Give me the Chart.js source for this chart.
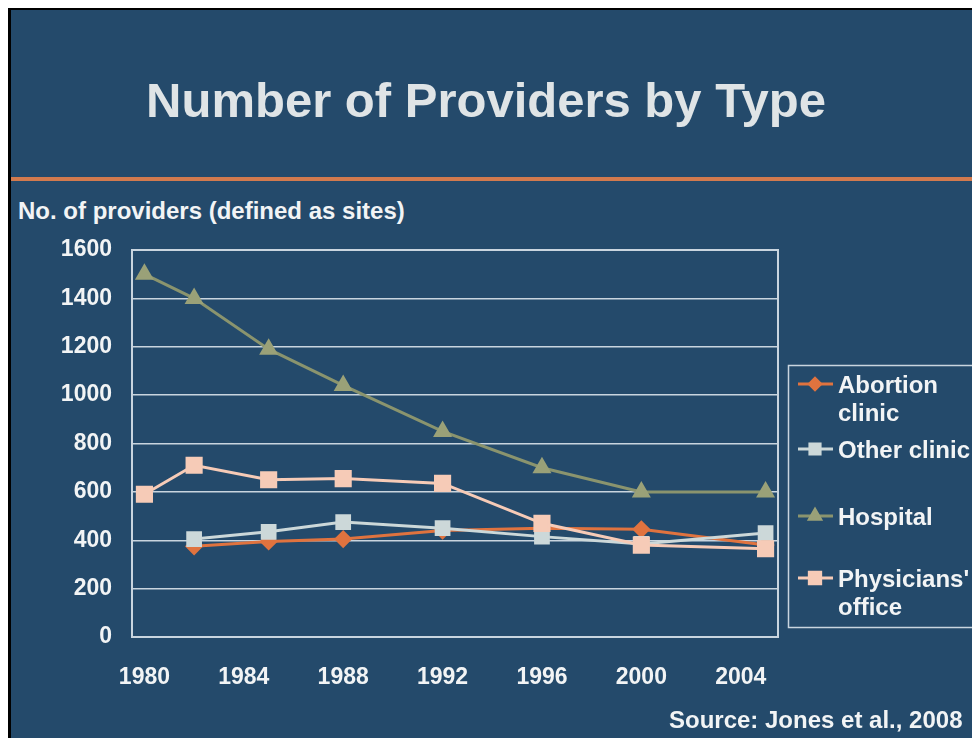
<!DOCTYPE html>
<html>
<head>
<meta charset="utf-8">
<script src="https://cdn.jsdelivr.net/npm/chart.js"></script>
<style>
  html, body { margin: 0; padding: 0; background: #fff; overflow: hidden; width: 972px; height: 738px; }
  #slide { position: absolute; left: 8px; top: 8px; width: 980px; height: 750px; background: #244a6b;
           border-left: 3px solid #000; border-top: 2px solid #000; }
  .txt { position: absolute; font-family: "Liberation Sans", Arial, sans-serif; font-weight: bold; white-space: nowrap; }
  #title { left: 0; width: 972px; top: 72px; text-align: center; font-size: 49px; color: #dfe4e6; }
  #rule { position: absolute; left: 11px; top: 177px; width: 970px; height: 4px; background: #d27a4e; }
  #ytitle { left: 18px; top: 197px; font-size: 24px; color: #f2f4f5; }
  #source { left: 669px; top: 706px; font-size: 24px; color: #f2f4f5; }
  canvas { position: absolute; left: 0; top: 0; }
</style>
</head>
<body>
<div id="slide"></div>
<div id="rule"></div>
<div class="txt" id="title">Number of Providers by Type</div>
<div class="txt" id="ytitle">No. of providers (defined as sites)</div>
<canvas id="c" width="972" height="738"></canvas>
<div class="txt" id="source">Source: Jones et al., 2008</div>
<script>
// survey years
const years = [1980, 1982, 1985, 1988, 1992, 1996, 2000, 2005];
const xTicks = [1980, 1984, 1988, 1992, 1996, 2000, 2004];

const abortionClinic = [null, 375, 395, 405, 440, 450, 445, 380];
const otherClinic = [null, 405, 435, 475, 450, 415, 385, 430];
const hospital = [1500, 1400, 1190, 1040, 850, 700, 600, 600];
const physiciansOffice = [590, 710, 650, 655, 635, 470, 380, 365];

const seriesNames = [['Abortion', 'clinic'], ['Other clinic'], ['Hospital'], ["Physicians'", 'office']];

const textColor = '#f2f4f5';
const gridColor = '#c9d5df';
const font = { family: '"Liberation Sans", Arial, sans-serif', weight: 'bold', size: 23 };

function pts(vals) {
    return years.map((y, i) => ({ x: y, y: vals[i] }));
}

const plotFrame = {
    id: 'plotFrame',
    beforeDatasetsDraw(chart) {
        const a = chart.chartArea, ctx = chart.ctx;
        ctx.save();
        ctx.strokeStyle = gridColor;
        ctx.lineWidth = 2;
        ctx.strokeRect(a.left, a.top, a.right - a.left, a.bottom - a.top);
        ctx.restore();
    }
};

// legend box on the right, labels wrap over two lines like the slide
const sideLegend = {
    id: 'sideLegend',
    afterDraw(chart) {
        const ctx = chart.ctx;
        const rows = [384, 449, 516, 578];
        ctx.save();
        ctx.strokeStyle = gridColor;
        ctx.lineWidth = 1.5;
        ctx.strokeRect(788.5, 365.5, 300, 262);
        ctx.font = 'bold 24px "Liberation Sans", Arial, sans-serif';
        ctx.textBaseline = 'middle';
        chart.data.datasets.forEach((ds, i) => {
            const y = rows[i];
            ctx.strokeStyle = ds.borderColor;
            ctx.lineWidth = 3;
            ctx.beginPath();
            ctx.moveTo(798, y);
            ctx.lineTo(833, y);
            ctx.stroke();
            ctx.fillStyle = ds.pointBackgroundColor;
            ctx.strokeStyle = ds.pointBackgroundColor;
            Chart.helpers.drawPoint(ctx, { pointStyle: ds.pointStyle, radius: ds.pointRadius * 0.8, borderWidth: 1, rotation: 0 }, 815, y);
            ctx.fillStyle = textColor;
            seriesNames[i].forEach((line, k) => ctx.fillText(line, 838, y + 2 + k * 28));
        });
        ctx.restore();
    }
};

new Chart(document.getElementById('c'), {
    type: 'line',
    data: {
        datasets: [
            { label: seriesNames[0].join(' '), data: pts(abortionClinic), borderColor: '#e0733f', pointBackgroundColor: '#e0733f',
              pointBorderColor: '#e0733f', pointStyle: 'rectRot', pointRadius: 7, borderWidth: 3, order: 2 },
            { label: seriesNames[1].join(' '), data: pts(otherClinic), borderColor: '#ccd8d9', pointBackgroundColor: '#ccd8d9',
              pointBorderColor: '#ccd8d9', pointStyle: 'rect', pointRadius: 9, borderWidth: 3, order: 1 },
            { label: seriesNames[2].join(' '), data: pts(hospital), borderColor: '#8a946e', pointBackgroundColor: '#9aa178',
              pointBorderColor: '#9aa178', pointStyle: 'triangle', pointRadius: 8, borderWidth: 3, order: 3 },
            { label: seriesNames[3].join(' '), data: pts(physiciansOffice), borderColor: '#f6cbb7', pointBackgroundColor: '#f6cbb7',
              pointBorderColor: '#f6cbb7', pointStyle: 'rect', pointRadius: 10, borderWidth: 3, order: 0 }
        ]
    },
    options: {
        responsive: false,
        animation: false,
        events: [],
        layout: { padding: { top: 250, left: 0, right: 194, bottom: 0 } },
        plugins: { legend: { display: false }, tooltip: { enabled: false } },
        elements: { line: { tension: 0 } },
        scales: {
            x: {
                type: 'linear',
                min: 1979.5,
                max: 2005.5,
                afterBuildTicks: s => { s.ticks = xTicks.map(v => ({ value: v })); },
                afterFit: s => { s.height = 101; },
                grid: { display: false },
                border: { display: false },
                ticks: { color: textColor, font: font, padding: 19, maxRotation: 0, autoSkip: false, callback: v => String(v) }
            },
            y: {
                min: 0,
                max: 1600,
                afterFit: s => { s.width = 132; },
                grid: { color: gridColor, lineWidth: 1.5, drawTicks: false },
                border: { display: false },
                ticks: { stepSize: 200, color: textColor, font: font, padding: 20, callback: v => String(v) }
            }
        }
    },
    plugins: [plotFrame, sideLegend]
});
</script>
</body>
</html>
